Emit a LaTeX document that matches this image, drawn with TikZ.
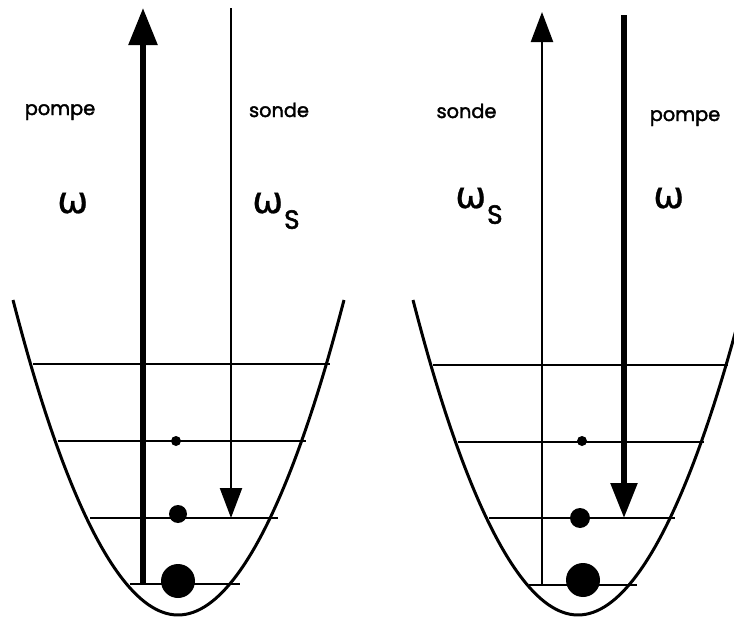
\documentclass[tikz,border=0pt]{standalone}
\usepackage{fontspec}
\setmainfont{Poppins}
\newfontfamily\wordfont{Poppins}[FakeBold=2]
\newfontfamily\greekfont{DejaVu Sans}[FakeBold=0.6]
\usetikzlibrary{arrows.meta}
\tikzset{
  wellcurve/.style={line width=1.7pt,black},
  levelline/.style={line width=1.4pt,black},
  thickbeam/.style={-{Triangle[length=7.4mm,width=5.6mm]},line width=3.2pt},
  thinbeam/.style={-{Triangle[length=6mm,width=4.4mm]},line width=1.3pt},
  popdot/.style={circle,fill=black,inner sep=0pt},
  wordlabel/.style={anchor=base,inner sep=0pt,font=\fontsize{11}{12}\selectfont\wordfont},
  freqlabel/.style={anchor=base west,inner sep=0pt,font=\fontsize{21}{21}\selectfont\greekfont},
}
\newcommand{\subS}{\kern0.5pt\raisebox{-9pt}{\fontsize{15}{15}\selectfont\wordfont S}}

\begin{document}
\begin{tikzpicture}
  \useasboundingbox (0,0) rectangle (14.68,12.34);
  \clip (0,0) rectangle (14.68,12.34);
  % left well
  \draw[wellcurve] (0.26,6.34) parabola bend (3.56,0.04) (6.88,6.34);
  \draw[levelline] (0.66,5.06) -- (6.60,5.06);
  \draw[levelline] (1.16,3.52) -- (6.12,3.52);
  \draw[levelline] (1.80,1.98) -- (5.56,1.98);
  \draw[levelline] (2.60,0.66) -- (4.80,0.66);
  \node[popdot,minimum size=2.0mm] (dotL2) at (3.52,3.52) {};
  \node[popdot,minimum size=3.6mm] (dotL1) at (3.56,2.06) {};
  \node[popdot,minimum size=6.8mm] (dotL0) at (3.56,0.72) {};
  \coordinate (pumpLbot) at (2.86,0.66);
  \coordinate (pumpLtop) at (2.86,12.18);
  \coordinate (probeLtop) at (4.62,12.18);
  \coordinate (probeLbot) at (4.62,1.98);
  \draw[thickbeam] (pumpLbot) -- (pumpLtop);
  \draw[thinbeam] (probeLtop) -- (probeLbot);
  \node[wordlabel] (pompeL) at (1.20,10.04) {pompe};
  \node[wordlabel] (sondeL) at (5.58,10.00) {sonde};
  \node[freqlabel] (omegaL) at (1.14,8.08) {ω};
  \node[freqlabel] (omegaSL) at (5.04,8.08) {ω\subS};
  % right well
  \draw[wellcurve] (8.26,6.34) parabola bend (11.56,0.04) (14.88,6.34);
  \draw[levelline] (8.66,5.04) -- (14.56,5.04);
  \draw[levelline] (9.16,3.50) -- (14.08,3.50);
  \draw[levelline] (9.78,1.98) -- (13.50,1.98);
  \draw[levelline] (10.58,0.64) -- (12.74,0.64);
  \node[popdot,minimum size=2.0mm] (dotR2) at (11.64,3.52) {};
  \node[popdot,minimum size=4.0mm] (dotR1) at (11.60,1.98) {};
  \node[popdot,minimum size=6.8mm] (dotR0) at (11.66,0.74) {};
  \coordinate (probeRbot) at (10.84,0.64);
  \coordinate (probeRtop) at (10.84,12.10);
  \coordinate (pumpRtop) at (12.48,12.04);
  \coordinate (pumpRbot) at (12.48,1.98);
  \draw[thinbeam] (probeRbot) -- (probeRtop);
  \draw[thickbeam,-{Triangle[length=7mm,width=5.2mm]}] (pumpRtop) -- (pumpRbot);
  \node[wordlabel] (sondeR) at (9.33,9.98) {sonde};
  \node[wordlabel] (pompeR) at (13.70,9.92) {pompe};
  \node[freqlabel] (omegaSR) at (9.10,8.18) {ω\subS};
  \node[freqlabel] (omegaR) at (13.06,8.18) {ω};
\end{tikzpicture}
\end{document}
